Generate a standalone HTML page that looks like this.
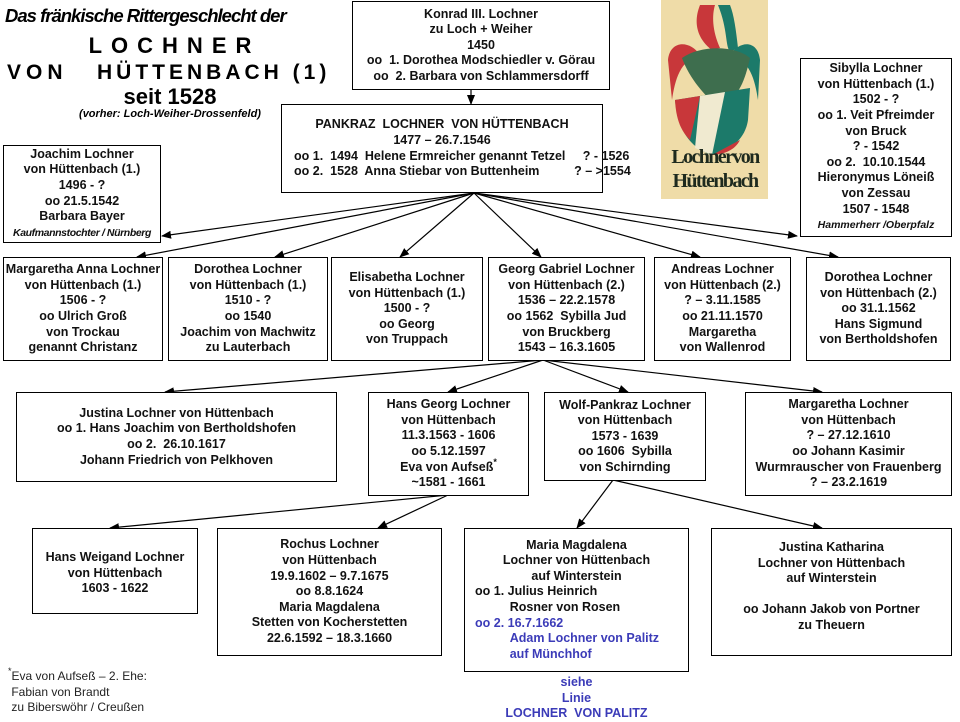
<!DOCTYPE html>
<html><head><meta charset="utf-8">
<style>
body{margin:0;width:960px;height:720px;background:#fff;position:relative;overflow:hidden;font-family:"Liberation Sans",Arial,sans-serif;}
.b{position:absolute;border:1.3px solid #000;box-sizing:border-box;background:#fff;text-align:center;font-weight:bold;font-size:12.5px;line-height:15.6px;color:#111;white-space:nowrap;display:flex;flex-direction:column;justify-content:center;}
.t{position:absolute;text-align:center;white-space:nowrap;}
.blue{color:#3b3bb8;}
svg{position:absolute;left:0;top:0;}
sup{font-size:9px;line-height:0;vertical-align:6px;}
</style></head><body>
<svg width="960" height="720">
<defs><marker id="a" markerWidth="10" markerHeight="8" refX="9" refY="4" orient="auto" markerUnits="userSpaceOnUse"><path d="M0,0 L10,4 L0,8 z" fill="#000"/></marker></defs>
<g stroke="#000" stroke-width="1.2" fill="none" marker-end="url(#a)">
<line x1="471" y1="89" x2="471" y2="104"/>
<line x1="474" y1="193" x2="162" y2="236"/>
<line x1="474" y1="193" x2="137" y2="257"/>
<line x1="474" y1="193" x2="275" y2="257"/>
<line x1="474" y1="193" x2="400" y2="257"/>
<line x1="474" y1="193" x2="541" y2="257"/>
<line x1="474" y1="193" x2="700" y2="257"/>
<line x1="474" y1="193" x2="838" y2="257"/>
<line x1="474" y1="193" x2="797" y2="236"/>
<line x1="543" y1="360" x2="165" y2="392"/>
<line x1="543" y1="360" x2="448" y2="392"/>
<line x1="543" y1="360" x2="628" y2="392"/>
<line x1="543" y1="360" x2="822" y2="392"/>
<line x1="448" y1="495" x2="110" y2="528"/>
<line x1="448" y1="495" x2="378" y2="528"/>
<line x1="613" y1="480" x2="577" y2="528"/>
<line x1="613" y1="480" x2="822" y2="528"/>
</g>
<rect x="661" y="0" width="107" height="199" fill="#efdca8"/>
<path d="M700,5 C690,30 705,45 712,50 L720,48 C712,30 712,15 715,5z" fill="#c8373a"/>
<path d="M718,5 C728,30 725,45 730,52 L738,48 C736,30 734,15 730,5z" fill="#1c7a6a"/>
<path d="M668,60 C670,40 690,40 700,55 C680,60 675,80 672,100z" fill="#c8373a"/>
<path d="M760,60 C758,40 740,40 730,55 C750,60 755,80 758,100z" fill="#1c7a6a"/>
<path d="M682,58 C700,45 735,45 750,58 C745,80 740,95 720,110 C705,95 690,80 682,58z" fill="#3e6e4e"/>
<path d="M675,100 L750,88 L748,120 C745,140 730,150 712,155 C690,148 678,130 675,100z" fill="#1c7a6a"/>
<path d="M675,100 L700,96 L690,140 C680,130 676,118 675,100z" fill="#c8373a"/>
<path d="M700,96 L725,92 L712,155 L695,148z" fill="#f0ead0"/>
<path d="M712,155 L740,140 C735,150 725,154 712,155z" fill="#c8373a"/>
</svg>
<div class="t" style="left:662px;top:145px;width:106px;font-family:'Liberation Serif',serif;font-weight:bold;font-size:20px;line-height:24px;color:#1e2a1e;letter-spacing:-1.6px;">Lochnervon<br>Hüttenbach</div>

<div class="t" style="left:5px;top:5px;width:275px;font-weight:bold;font-style:italic;font-size:18.5px;letter-spacing:-1px;">Das fränkische Rittergeschlecht der</div>
<div class="t" style="left:0;top:33px;width:340px;font-weight:bold;font-size:22px;letter-spacing:9px;padding-left:9px;box-sizing:border-box;">LOCHNER</div>
<div class="t" style="left:7px;top:61px;font-weight:bold;font-size:21px;letter-spacing:5px;text-align:left;">VON</div>
<div class="t" style="left:97px;top:61px;font-weight:bold;font-size:21px;letter-spacing:4px;text-align:left;">HÜTTENBACH (1)</div>
<div class="t" style="left:0;top:85px;width:340px;font-weight:bold;font-size:22px;line-height:24px;">seit 1528</div>
<div class="t" style="left:0;top:108px;width:340px;font-weight:bold;font-style:italic;font-size:11px;line-height:13px;">(vorher: Loch-Weiher-Drossenfeld)</div>

<div class="b" style="left:352px;top:1px;width:258px;height:89px;"><div>Konrad III. Lochner<br>zu Loch + Weiher<br>1450<br>oo&nbsp; 1. Dorothea Modschiedler v. Görau<br>oo&nbsp; 2. Barbara von Schlammersdorff</div></div>
<div class="b" style="left:281px;top:104px;width:322px;height:89px;"><div>PANKRAZ&nbsp; LOCHNER&nbsp; VON HÜTTENBACH<br>1477 – 26.7.1546<br><span style="text-align:left;display:block;padding-left:12px">oo 1.&nbsp; 1494&nbsp; Helene Ermreicher genannt Tetzel&nbsp;&nbsp;&nbsp;&nbsp; ? - 1526<br>oo 2.&nbsp; 1528&nbsp; Anna Stiebar von Buttenheim&nbsp;&nbsp;&nbsp;&nbsp;&nbsp;&nbsp;&nbsp;&nbsp;&nbsp; ? – &gt;1554</span></div></div>
<div class="b" style="left:3px;top:145px;width:158px;height:98px;"><div>Joachim Lochner<br>von Hüttenbach (1.)<br>1496 - ?<br>oo 21.5.1542<br>Barbara Bayer<br><i style="font-size:10.5px;letter-spacing:-0.4px">Kaufmannstochter / Nürnberg</i></div></div>
<div class="b" style="left:800px;top:58px;width:152px;height:179px;"><div>Sibylla Lochner<br>von Hüttenbach (1.)<br>1502 - ?<br>oo 1. Veit Pfreimder<br>von Bruck<br>? - 1542<br>oo 2.&nbsp; 10.10.1544<br>Hieronymus Löneiß<br>von Zessau<br>1507 - 1548<br><i style="font-size:10.5px">Hammerherr /Oberpfalz</i></div></div>

<div class="b" style="left:3px;top:257px;width:160px;height:104px;"><div>Margaretha Anna Lochner<br>von Hüttenbach (1.)<br>1506 - ?<br>oo Ulrich Groß<br>von Trockau<br>genannt Christanz</div></div>
<div class="b" style="left:168px;top:257px;width:160px;height:104px;"><div>Dorothea Lochner<br>von Hüttenbach (1.)<br>1510 - ?<br>oo 1540<br>Joachim von Machwitz<br>zu Lauterbach</div></div>
<div class="b" style="left:331px;top:257px;width:152px;height:104px;justify-content:flex-start;padding-top:12px;"><div>Elisabetha Lochner<br>von Hüttenbach (1.)<br>1500 - ?<br>oo Georg<br>von Truppach</div></div>
<div class="b" style="left:488px;top:257px;width:157px;height:104px;"><div>Georg Gabriel Lochner<br>von Hüttenbach (2.)<br>1536 – 22.2.1578<br>oo 1562&nbsp; Sybilla Jud<br>von Bruckberg<br>1543 – 16.3.1605</div></div>
<div class="b" style="left:654px;top:257px;width:137px;height:104px;"><div>Andreas Lochner<br>von Hüttenbach (2.)<br>? – 3.11.1585<br>oo 21.11.1570<br>Margaretha<br>von Wallenrod</div></div>
<div class="b" style="left:806px;top:257px;width:145px;height:104px;justify-content:flex-start;padding-top:12px;"><div>Dorothea Lochner<br>von Hüttenbach (2.)<br>oo 31.1.1562<br>Hans Sigmund<br>von Bertholdshofen</div></div>

<div class="b" style="left:16px;top:392px;width:321px;height:90px;"><div>Justina Lochner von Hüttenbach<br>oo 1. Hans Joachim von Bertholdshofen<br>oo 2.&nbsp; 26.10.1617<br>Johann Friedrich von Pelkhoven</div></div>
<div class="b" style="left:368px;top:392px;width:161px;height:104px;"><div>Hans Georg Lochner<br>von Hüttenbach<br>11.3.1563 - 1606<br>oo 5.12.1597<br>Eva von Aufseß<sup>*</sup><br>~1581 - 1661</div></div>
<div class="b" style="left:544px;top:392px;width:162px;height:89px;"><div>Wolf-Pankraz Lochner<br>von Hüttenbach<br>1573 - 1639<br>oo 1606&nbsp; Sybilla<br>von Schirnding</div></div>
<div class="b" style="left:745px;top:392px;width:207px;height:104px;"><div>Margaretha Lochner<br>von Hüttenbach<br>? – 27.12.1610<br>oo Johann Kasimir<br>Wurmrauscher von Frauenberg<br>? – 23.2.1619</div></div>

<div class="b" style="left:32px;top:528px;width:166px;height:86px;justify-content:flex-start;padding-top:21px;"><div>Hans Weigand Lochner<br>von Hüttenbach<br>1603 - 1622</div></div>
<div class="b" style="left:217px;top:528px;width:225px;height:128px;"><div>Rochus Lochner<br>von Hüttenbach<br>19.9.1602 – 9.7.1675<br>oo 8.8.1624<br>Maria Magdalena<br>Stetten von Kocherstetten<br>22.6.1592 – 18.3.1660</div></div>
<div class="b" style="left:464px;top:528px;width:225px;height:144px;"><div>Maria Magdalena<br>Lochner von Hüttenbach<br>auf Winterstein<br><span style="text-align:left;display:block;padding-left:10px">oo 1. Julius Heinrich<br>&nbsp;&nbsp;&nbsp;&nbsp;&nbsp;&nbsp;&nbsp;&nbsp;&nbsp;&nbsp;Rosner von Rosen<br><span class="blue">oo 2. 16.7.1662<br>&nbsp;&nbsp;&nbsp;&nbsp;&nbsp;&nbsp;&nbsp;&nbsp;&nbsp;&nbsp;Adam Lochner von Palitz<br>&nbsp;&nbsp;&nbsp;&nbsp;&nbsp;&nbsp;&nbsp;&nbsp;&nbsp;&nbsp;auf Münchhof</span></span></div></div>
<div class="b" style="left:711px;top:528px;width:241px;height:128px;justify-content:flex-start;padding-top:11px;"><div>Justina Katharina<br>Lochner von Hüttenbach<br>auf Winterstein<br>&nbsp;<br>oo Johann Jakob von Portner<br>zu Theuern</div></div>

<div class="t blue" style="left:464px;top:675px;width:225px;font-weight:bold;font-size:12.5px;line-height:15.5px;">siehe<br>Linie<br>LOCHNER&nbsp; VON PALITZ</div>
<div class="t" style="left:8px;top:669px;text-align:left;font-size:12px;line-height:15.5px;color:#222;"><sup>*</sup>Eva von Aufseß – 2. Ehe:<br>&nbsp;Fabian von Brandt<br>&nbsp;zu Biberswöhr / Creußen</div>
</body></html>
